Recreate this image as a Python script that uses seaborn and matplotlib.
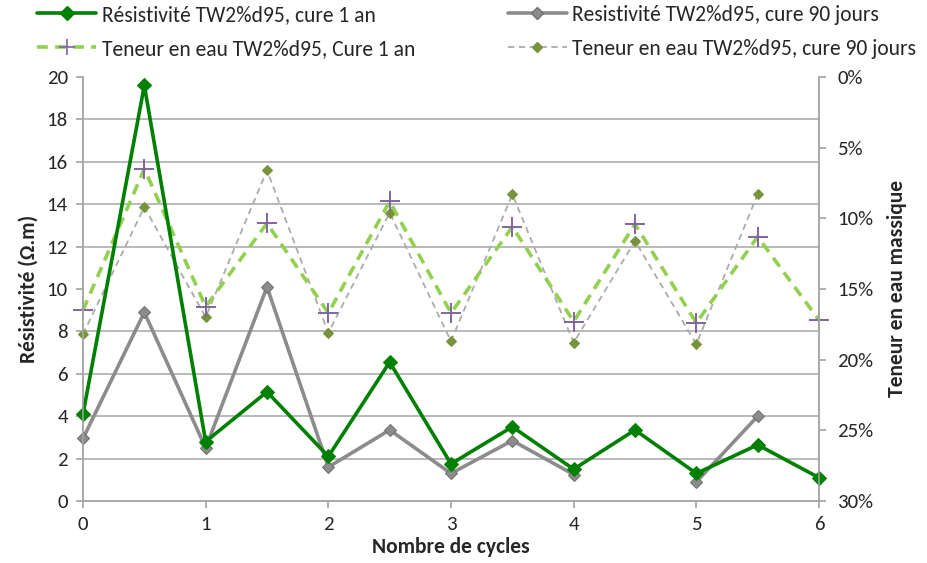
import numpy as np
import pandas as pd
import matplotlib
matplotlib.use("Agg")
import matplotlib.pyplot as plt
from matplotlib.lines import Line2D
from matplotlib.ticker import FuncFormatter, MultipleLocator
import seaborn as sns

# Number of wetting/drying cycles (half-cycle steps)
cycles = [0, 0.5, 1, 1.5, 2, 2.5, 3, 3.5, 4, 4.5, 5, 5.5, 6]

# Resistivity (Ω.m)
res_1an = [4.1, 19.6, 2.8, 5.15, 2.1, 6.55, 1.75, 3.5, 1.5, 3.35, 1.3, 2.65, 1.1]
res_90j = [2.95, 8.9, 2.5, 10.1, 1.6, 3.35, 1.3, 2.85, 1.25, np.nan, 0.9, 4.0, np.nan]

# Mass water content (%)
eau_1an = [16.5, 6.5, 16.25, 10.35, 16.7, 8.8, 16.7, 10.6, 17.3, 10.4, 17.4, 11.3, 17.2]
eau_90j = [18.2, 9.2, 17.0, 6.6, 18.1, 9.6, 18.7, 8.3, 18.8, 11.6, 18.9, 8.3, np.nan]

labels = [
    "Résistivité TW2%d95, cure 1 an",
    "Resistivité TW2%d95, cure 90 jours",
    "Teneur en eau TW2%d95, Cure 1 an",
    "Teneur en eau TW2%d95, cure 90 jours",
]

sns.set_theme(style="white")
plt.rcParams["font.family"] = ["Carlito", "DejaVu Sans"]

fig = plt.figure(figsize=(9.28, 5.63), dpi=100)
ax2 = fig.add_axes([83 / 928, 1 - 501 / 563, (819 - 83) / 928, (501 - 77) / 563])
ax = ax2.twinx()
ax.yaxis.tick_left()
ax.yaxis.set_label_position("left")
ax2.yaxis.tick_right()
ax2.yaxis.set_label_position("right")
ax.set_zorder(ax2.get_zorder() + 1)
ax.patch.set_visible(False)

GREEN = "#008000"
GREY = "#8c8c8c"
LGREEN = "#92D050"
PURPLE = "#8064A2"
DGREY = "#ABABAB"
OLIVE = "#77933C"

def segments(xs, ys):
    """Split a series on missing values so gaps stay empty."""
    seg_x, seg_y = [], []
    for x, y in zip(xs, ys):
        if np.isnan(y):
            if seg_x:
                yield seg_x, seg_y
            seg_x, seg_y = [], []
        else:
            seg_x.append(x)
            seg_y.append(y)
    if seg_x:
        yield seg_x, seg_y

def draw(axis, ys, **kw):
    for sx, sy in segments(cycles, ys):
        sns.lineplot(x=sx, y=sy, ax=axis, estimator=None, sort=False, legend=False,
                     clip_on=False, **kw)

# Water content on the right axis (drawn beneath)
draw(ax2, eau_90j, color=DGREY, lw=1.3, linestyle=(0, (3.5, 2.5)), marker="D",
     markersize=5, markerfacecolor=OLIVE, markeredgecolor=OLIVE)
draw(ax2, eau_1an, color=LGREEN, lw=2.6, linestyle=(0, (3, 2)), marker="+",
     markersize=15, markeredgewidth=1.4, markeredgecolor=PURPLE)

# Resistivity on the left axis
draw(ax, res_90j, color=GREY, lw=2.6, marker="D", markersize=6,
     markerfacecolor="#8c8c8c", markeredgecolor="#707070")
draw(ax, res_1an, color=GREEN, lw=2.6, marker="D", markersize=7.5,
     markerfacecolor=GREEN, markeredgecolor=GREEN)

ax.set_xlim(0, 6)
ax.set_ylim(0, 20)
ax2.set_ylim(30, 0)
ax.set_yticks(range(0, 21, 2))
ax2.set_yticks(range(0, 31, 5))
ax2.yaxis.set_major_formatter(FuncFormatter(lambda v, p: f"{v:.0f}%"))
ax2.set_xticks(range(0, 7))

# Horizontal gridlines at each resistivity tick, drawn behind all series
ax2.yaxis.set_minor_locator(MultipleLocator(3))
ax2.grid(False)
ax.grid(False)
ax2.grid(True, which="minor", axis="y", color="#a6a6a6", lw=1.1)
ax2.tick_params(axis="y", which="minor", length=0)

tick_color = "#262626"
ax.tick_params(axis="y", which="major", direction="out", length=5, color="#a6a6a6",
               labelsize=15, labelcolor=tick_color, pad=6, left=True)
ax2.tick_params(axis="y", which="major", direction="out", length=5, color="#a6a6a6",
                labelsize=15, labelcolor=tick_color, pad=8, right=True)
ax2.tick_params(axis="x", direction="out", length=5, color="#a6a6a6",
                labelsize=15, labelcolor=tick_color, bottom=True, pad=6)
ax.tick_params(axis="x", bottom=False, labelbottom=False)

for a in (ax, ax2):
    for side in ("left", "right", "bottom"):
        a.spines[side].set_visible(True)
        a.spines[side].set_color("#a6a6a6")
        a.spines[side].set_linewidth(1.1)
    a.spines["top"].set_visible(False)

ax.set_ylabel("Résistivité (Ω.m)", fontsize=15.5, fontweight="bold", labelpad=6)
ax2.set_ylabel("Teneur en eau massique", fontsize=15.5, fontweight="bold", labelpad=10)
ax2.set_xlabel("Nombre de cycles", fontsize=15.5, fontweight="bold", labelpad=2.5)

handles = [
    Line2D([], [], color=GREEN, lw=2.6, marker="D", markersize=7, markerfacecolor=GREEN),
    Line2D([], [], color=GREY, lw=2.6, marker="D", markersize=6, markerfacecolor=GREY,
           markeredgecolor="#707070"),
    Line2D([], [], color=LGREEN, lw=2.6, linestyle=(0, (3, 2)), marker="+", markersize=12,
           markeredgewidth=1.2, markeredgecolor=PURPLE),
    Line2D([], [], color=DGREY, lw=1.3, linestyle=(0, (3.5, 2.5)), marker="D", markersize=5,
           markerfacecolor=OLIVE, markeredgecolor=OLIVE),
]
order = [0, 2, 1, 3]
fig.legend([handles[i] for i in order], [labels[i] for i in order], ncol=2,
           loc="upper left", bbox_to_anchor=(37 / 928, 1 - 5 / 563), frameon=False,
           fontsize=15.5, handlelength=2.75, handletextpad=0.25, columnspacing=4.3,
           labelspacing=0.65, borderaxespad=0, borderpad=0)

fig.savefig("out.png", dpi=100)
